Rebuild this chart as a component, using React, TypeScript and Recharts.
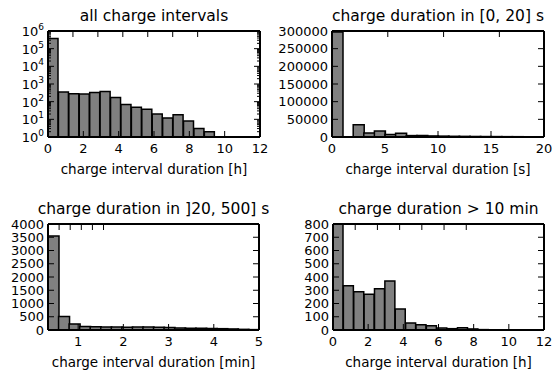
import React from 'react';
import { BarChart, Bar, XAxis, YAxis } from 'recharts';

// histogram counts, 20 bins each
const allIntervalCounts = [380000, 350, 285, 270, 325, 380, 170, 69, 49, 37, 20, 12, 18, 8, 3, 2, 1, 0, 0, 1];
const shortChargeCounts = [297000, 0, 35000, 11500, 17000, 7000, 10500, 4000, 4500, 3000, 2500, 2000, 1800, 1500, 1300, 1200, 1000, 900, 800, 700];
const midChargeCounts = [3550, 510, 230, 130, 120, 115, 110, 100, 110, 110, 100, 90, 80, 70, 70, 60, 50, 40, 25, 15];
const longChargeCounts = [1000, 334, 289, 269, 312, 370, 158, 53, 40, 33, 15, 10, 17, 8, 3, 2, 1, 1, 1, 0];

// bins: start and width in axis units
const hourBins = { start: 0, width: 0.59 };
const secondBins = { start: 0, width: 1 };
const minuteBins = { start: 1 / 3, width: 14 / 60 };

const hourTicks = [0, 2, 4, 6, 8, 10, 12];
const secondTicks = [0, 5, 10, 15, 20];
const minuteTicks = [1, 2, 3, 4, 5];
const logTicks = [1, 10, 100, 1000, 10000, 100000, 1000000];
const shortYTicks = [0, 50000, 100000, 150000, 200000, 250000, 300000];
const midYTicks = [0, 500, 1000, 1500, 2000, 2500, 3000, 3500, 4000];
const longYTicks = [0, 100, 200, 300, 400, 500, 600, 700, 800];

const titles = ['all charge intervals', 'charge duration in [0, 20] s', 'charge duration in ]20, 500] s', 'charge duration > 10 min'];
const xLabels = ['charge interval duration [h]', 'charge interval duration [s]', 'charge interval duration [min]', 'charge interval duration [h]'];

const FONT = "'DejaVu Sans', sans-serif";

const toRows = (counts: number[], bins: { start: number; width: number }, log = false) =>
  counts
    .map((count, i) => ({ mid: bins.start + (i + 0.5) * bins.width, count }))
    .filter((r) => !log || r.count > 0);

const logMinor: number[] = [];
logTicks.slice(0, -1).forEach((t) => {
  for (let k = 2; k <= 9; k++) logMinor.push(t * k);
});

const makeXTick = (side: 'top' | 'bottom') => (props: any) => {
  const { x, y, payload } = props;
  const dir = side === 'bottom' ? -1 : 1;
  return (
    <g>
      <line x1={x} x2={x} y1={y} y2={y + dir * 6} stroke="#000" strokeWidth={1} />
      {side === 'bottom' && (
        <text x={x} y={y + 16} textAnchor="middle" fontSize={13} fontFamily={FONT} fill="#000">
          {payload.value}
        </text>
      )}
    </g>
  );
};

const makeYTick = (side: 'left' | 'right', log: boolean) => (props: any) => {
  const { x, y, payload } = props;
  const v = payload.value as number;
  const major = !log || logTicks.includes(v);
  const len = major ? 6 : 3;
  const dir = side === 'left' ? 1 : -1;
  let label: React.ReactNode = null;
  if (side === 'left' && major) {
    label = log ? (
      <text x={x - 4} y={y + 5} textAnchor="end" fontSize={13} fontFamily={FONT} fill="#000">
        10
        <tspan dy={-6} fontSize={9}>
          {Math.round(Math.log10(v))}
        </tspan>
      </text>
    ) : (
      <text x={x - 4} y={y + 4.5} textAnchor="end" fontSize={13} fontFamily={FONT} fill="#000">
        {v}
      </text>
    );
  }
  return (
    <g>
      <line x1={x} x2={x + dir * len} y1={y} y2={y} stroke="#000" strokeWidth={1} />
      {label}
    </g>
  );
};

type PanelProps = {
  left: number;
  top: number;
  w: number;
  h: number;
  data: { mid: number; count: number }[];
  xDomain: [number, number];
  xTicks: number[];
  yDomain: [number, number];
  yTicks: number[];
  log?: boolean;
};

const Panel = ({ left, top, w, h, data, xDomain, xTicks, yDomain, yTicks, log = false }: PanelProps) => {
  const ticksY = log ? [...yTicks, ...logMinor] : yTicks;
  const axisLine = { stroke: '#000', strokeWidth: 2 };
  return (
    <div style={{ position: 'absolute', left: left - 60, top: top - 30 }}>
      <BarChart
        width={w + 70}
        height={h + 70}
        data={data}
        margin={{ top: 29, right: 9, bottom: 0, left: 0 }}
        barCategoryGap={0}
        barGap={0}
      >
        <XAxis
          xAxisId="b"
          type="number"
          dataKey="mid"
          domain={xDomain}
          ticks={xTicks}
          interval={0}
          allowDataOverflow
          height={40}
          tickSize={0}
          tickMargin={0}
          tickLine={false}
          axisLine={axisLine}
          tick={makeXTick('bottom')}
        />
        <XAxis
          xAxisId="t"
          orientation="top"
          type="number"
          domain={xDomain}
          ticks={xTicks}
          interval={0}
          allowDataOverflow
          height={1}
          tickSize={0}
          tickMargin={0}
          tickLine={false}
          axisLine={axisLine}
          tick={makeXTick('top')}
        />
        <YAxis
          yAxisId="l"
          type="number"
          scale={log ? 'log' : 'linear'}
          domain={yDomain}
          ticks={ticksY}
          interval={0}
          allowDataOverflow
          width={60}
          tickSize={0}
          tickMargin={0}
          tickLine={false}
          axisLine={axisLine}
          tick={makeYTick('left', log)}
        />
        <YAxis
          yAxisId="r"
          orientation="right"
          type="number"
          scale={log ? 'log' : 'linear'}
          domain={yDomain}
          ticks={ticksY}
          interval={0}
          allowDataOverflow
          width={1}
          tickSize={0}
          tickMargin={0}
          tickLine={false}
          axisLine={axisLine}
          tick={makeYTick('right', log)}
        />
        <Bar
          xAxisId="b"
          yAxisId="l"
          dataKey="count"
          fill="#808080"
          stroke="#000"
          strokeWidth={1.5}
          isAnimationActive={false}
        />
      </BarChart>
    </div>
  );
};

const panels = [
  { left: 48, top: 31, w: 212, h: 106 },
  { left: 332, top: 31, w: 212, h: 106 },
  { left: 48, top: 224, w: 211, h: 106 },
  { left: 333, top: 224, w: 211, h: 106 },
];

export default function App() {
  return (
    <div style={{ position: 'absolute', left: 0, top: 0, width: 558, height: 373, background: '#fff' }}>
      <Panel {...panels[0]} data={toRows(allIntervalCounts, hourBins, true)} xDomain={[0, 12]} xTicks={hourTicks} yDomain={[1, 1000000]} yTicks={logTicks} log />
      <Panel {...panels[1]} data={toRows(shortChargeCounts, secondBins)} xDomain={[0, 20]} xTicks={secondTicks} yDomain={[0, 300000]} yTicks={shortYTicks} />
      <Panel {...panels[2]} data={toRows(midChargeCounts, minuteBins)} xDomain={[1 / 3, 5]} xTicks={minuteTicks} yDomain={[0, 4000]} yTicks={midYTicks} />
      <Panel {...panels[3]} data={toRows(longChargeCounts, hourBins)} xDomain={[0, 12]} xTicks={hourTicks} yDomain={[0, 800]} yTicks={longYTicks} />
      <svg width={558} height={373} style={{ position: 'absolute', left: 0, top: 0, pointerEvents: 'none' }}>
        {panels.map((p, i) => (
          <g key={i} fontFamily={FONT} fill="#000">
            <text x={p.left + p.w / 2} y={p.top - 10} textAnchor="middle" fontSize={15.5}>
              {titles[i]}
            </text>
            <text x={p.left + p.w / 2} y={p.top + p.h + 37} textAnchor="middle" fontSize={13.5}>
              {xLabels[i]}
            </text>
          </g>
        ))}
      </svg>
    </div>
  );
}
